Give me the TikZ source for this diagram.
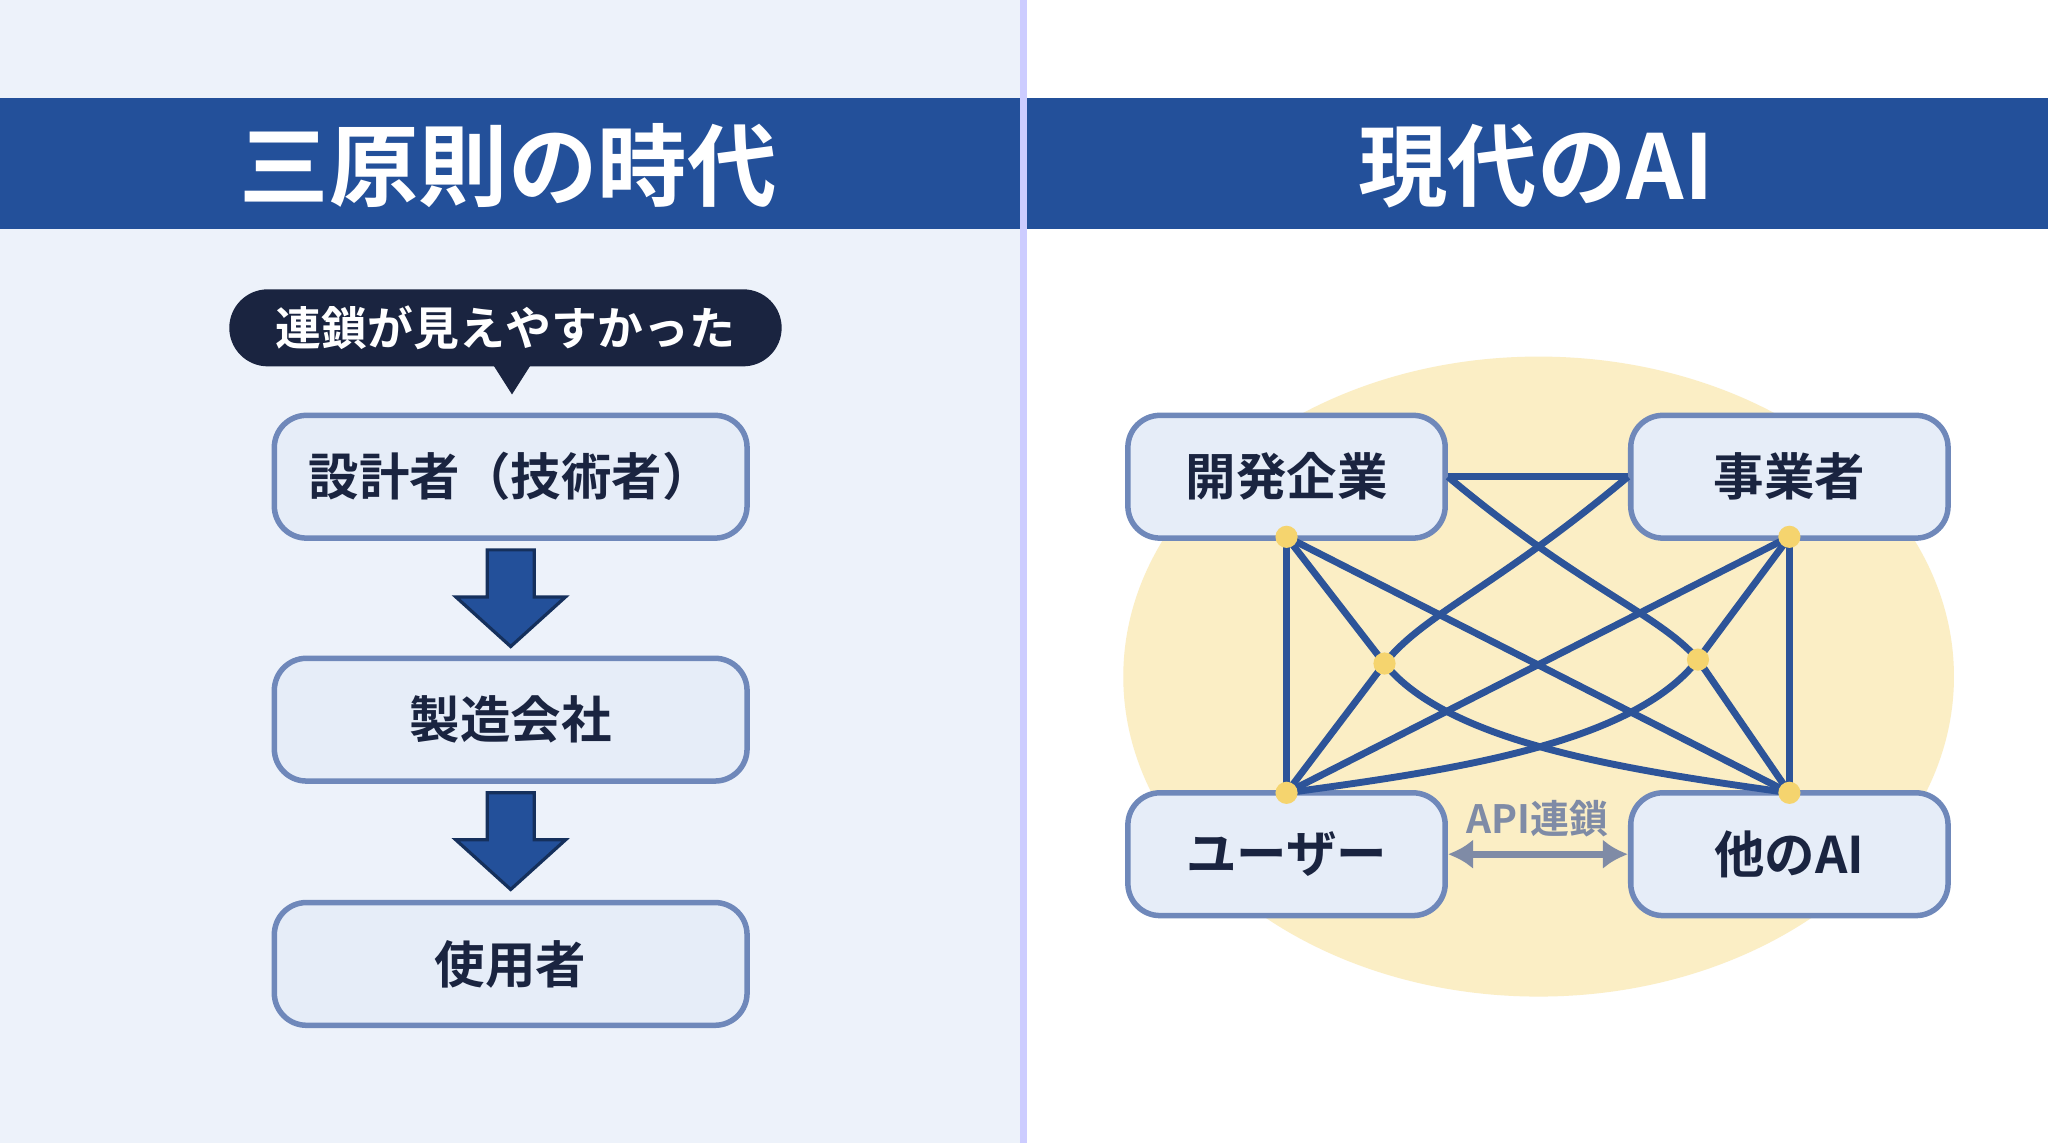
\documentclass[tikz,border=0pt]{standalone}
\usepackage{fontspec}
\usetikzlibrary{arrows.meta}
\newfontfamily\cjk{Noto Sans CJK JP}[BoldFont={Noto Sans CJK JP Bold}]
\definecolor{band}{HTML}{23509A}
\definecolor{boxfill}{HTML}{E6EDF8}
\definecolor{boxline}{HTML}{6F88BA}
\definecolor{ink}{HTML}{1A2440}
\definecolor{net}{HTML}{2D5499}
\definecolor{dotc}{HTML}{F5D46E}
\definecolor{paneL}{HTML}{EDF2FA}
\definecolor{apic}{HTML}{7F8BA6}
\begin{document}
\begin{tikzpicture}[x=0.02cm, y=-0.02cm,
    stepbox/.style={draw=boxline, line width=2.4pt, fill=boxfill, rounded corners=14pt,
      minimum width=7.24cm, minimum height=1.88cm, font=\cjk\bfseries\fontsize{22}{26}\selectfont, text=ink},
    actor/.style={stepbox, minimum width=4.86cm},
    link/.style={draw=net, line width=3pt},
    hub/.style={circle, fill=dotc, inner sep=0pt, minimum size=0.34cm}]
    % Backgrounds
    \fill[white] (0,0) rectangle (1568,875);
    \fill[paneL] (0,0) rectangle (782,875);
    \fill[band] (0,75) rectangle (1568,175);
    \fill[blue!20] (781,0) rectangle (786,875);
    \node[font=\cjk\bfseries\fontsize{39}{46}\selectfont, text=white] (T1) at (389,127) {三原則の時代};
    \node[font=\cjk\bfseries\fontsize{39}{46}\selectfont, text=white] (T2) at (1176,127) {現代のAI};

    % Left chain
    \node[fill=ink, rounded corners=0.59cm, minimum width=8.46cm, minimum height=1.18cm,
      text=white, font=\cjk\bfseries\fontsize{20}{24}\selectfont] (B) at (387,251) {連鎖が見えやすかった};
    \fill[ink] (378,280) -- (392,302) -- (406,280) -- cycle;
    \node[stepbox] (D) at (391,365) {設計者（技術者）};
    \node[stepbox] (M) at (391,551) {製造会社};
    \node[stepbox] (U) at (391,738) {使用者};
    \foreach \y in {421,607}
      \draw[band!60!black, line width=1.4pt, fill=band]
        (373,\y) -- (409,\y) -- (409,\y+36) -- (433,\y+36) -- (391,\y+74)
        -- (349,\y+36) -- (373,\y+36) -- cycle;

    % Right network
    \fill[dotc!40] (1178,518) ellipse [x radius=318, y radius=245];
    \node[actor] (A) at (985,365) {開発企業};
    \node[actor] (C) at (1370,365) {事業者};
    \node[actor] (E) at (985,654) {ユーザー};
    \node[actor] (F) at (1370,654) {他のAI};
    \coordinate (a1) at (985,411);
    \coordinate (c1) at (1370,411);
    \coordinate (e1) at (985,607);
    \coordinate (f1) at (1370,607);
    \coordinate (m1) at (1060,508);
    \coordinate (m2) at (1300,505);
    \draw[link] (A.east) -- (C.west);
    \draw[link] (A.east) .. controls (1210,450) and (1270,470) .. (m2) -- (f1);
    \draw[link] (C.west) .. controls (1145,450) and (1090,470) .. (m1) -- (e1);
    \draw[link] (a1) -- (e1);
    \draw[link] (c1) -- (f1);
    \draw[link] (a1) -- (f1);
    \draw[link] (c1) -- (e1);
    \draw[link] (a1) -- (m1) .. controls (1110,570) and (1250,590) .. (f1);
    \draw[link] (c1) -- (m2) .. controls (1250,570) and (1110,590) .. (e1);
    \foreach \p in {a1,c1,e1,f1,m1,m2}
      \node[hub] at (\p) {};
    \draw[{Latex[length=11pt,width=13pt]}-{Latex[length=11pt,width=13pt]}, draw=apic, line width=3pt]
      (E.east) -- (F.west);
    \node[font=\cjk\bfseries\fontsize{17}{20}\selectfont, text=apic] (L) at (1177,627) {API連鎖};
\end{tikzpicture}
\end{document}
